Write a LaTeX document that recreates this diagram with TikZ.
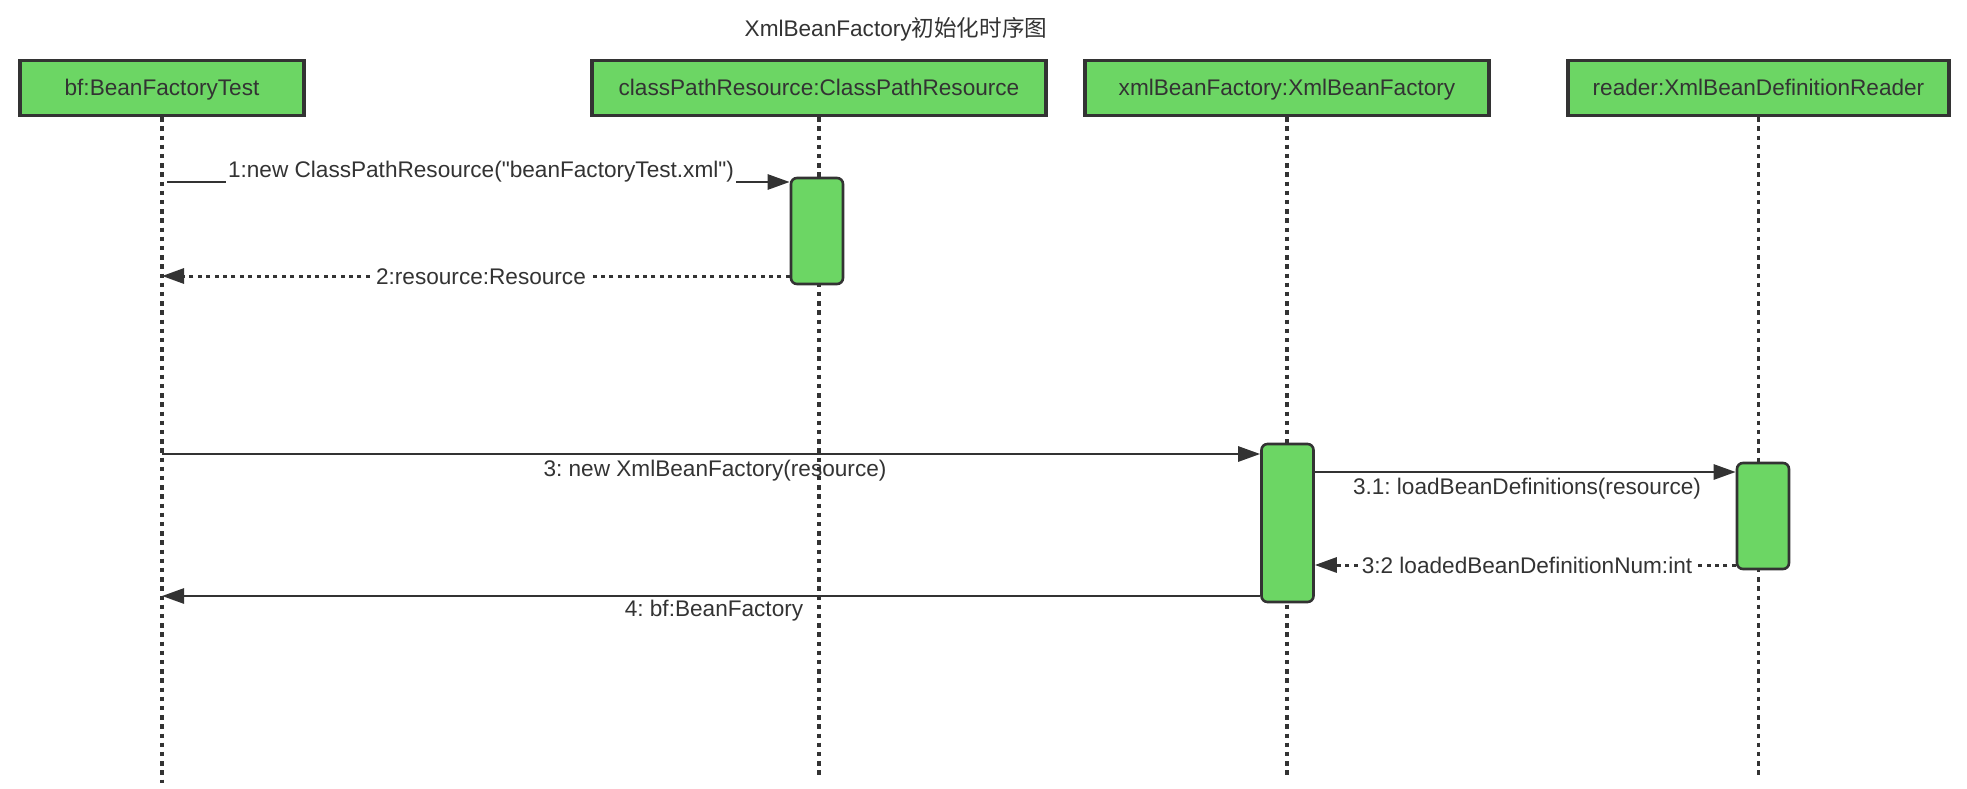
\documentclass[tikz,border=0pt]{standalone}
\usepackage{fontspec}
\setmainfont{Liberation Sans}
\newfontfamily\cjk{Noto Sans CJK SC}
\usetikzlibrary{arrows.meta}
\definecolor{boxgreen}{RGB}{108,214,100}
\definecolor{ink}{RGB}{51,51,51}
\tikzset{
  every node/.style={text=ink,font=\fontsize{11.3}{13.5}\selectfont\frenchspacing},
  head/.style={draw=ink,line width=1.6pt,fill=boxgreen,minimum height=27.5pt,inner sep=0pt,
    text height=0.72em,text depth=0pt},
  act/.style={draw=ink,line width=1.3pt,fill=boxgreen,rounded corners=3pt,minimum width=26pt,inner sep=0pt},
  life/.style={draw=ink,line width=1.6pt,dash pattern=on 2.2pt off 2.4pt},
  msg/.style={draw=ink,line width=1.35pt,-{Triangle[length=11pt,width=7.5pt]}},
  ret/.style={msg,line width=1.5pt,dash pattern=on 2pt off 2.2pt},
  lbl/.style={fill=white,inner sep=1pt}
}
\begin{document}
\begin{tikzpicture}[x=0.5pt,y=-0.5pt]
  \useasboundingbox (0,0) rectangle (1967,788);
  \node[anchor=base] (title) at (896,36) {XmlBeanFactory{\cjk 初始化时序图}};
  % objects
  \node[head,minimum width=142pt] (bf) at (162,88) {bf:BeanFactoryTest};
  \node[head,minimum width=227pt] (cpr) at (819,88) {classPathResource:ClassPathResource};
  \node[head,minimum width=202pt] (xbf) at (1287,88) {xmlBeanFactory:XmlBeanFactory};
  \node[head,minimum width=190.5pt] (rdr) at (1758.5,88) {reader:XmlBeanDefinitionReader};
  \foreach \n/\e in {bf/783,cpr/775,xbf/775,rdr/775}{
    \coordinate (\n End) at (\n.south |- 0,\e);
    \draw[life] (\n.south) -- (\n End);
  }
  % activations
  \node[act,minimum height=53pt] (cprAct) at (817,231) {};
  \node[act,minimum height=79pt] (xbfAct) at (1287.5,523) {};
  \node[act,minimum height=53pt] (rdrAct) at (1763,516) {};
  % messages
  \draw[msg] ([xshift=2.5pt]bf.south |- 0,182) -- (cprAct.west |- 0,182);
  \node[lbl,anchor=base] (m1) at (481,177) {1:new ClassPathResource(\textquotedbl beanFactoryTest.xml\textquotedbl)};
  \draw[ret] (cprAct.west |- 0,276) -- (bf.south |- 0,276);
  \node[lbl,anchor=base] (m2) at (481,284) {2:resource:Resource};
  \draw[msg] (bf.south |- 0,454) -- (xbfAct.west |- 0,454);
  \node[anchor=base] (m3) at (715,476) {3: new XmlBeanFactory(resource)};
  \draw[msg] (xbfAct.east |- 0,472) -- (rdrAct.west |- 0,472);
  \node[anchor=base] (m31) at (1527,494) {3.1: loadBeanDefinitions(resource)};
  \draw[ret] (rdrAct.west |- 0,565) -- (xbfAct.east |- 0,565);
  \node[lbl,anchor=base] (m32) at (1527,573) {3:2 loadedBeanDefinitionNum:int};
  \draw[msg] (xbfAct.west |- 0,596) -- (bf.south |- 0,596);
  \node[anchor=base] (m4) at (714,616) {4: bf:BeanFactory};
\end{tikzpicture}
\end{document}
